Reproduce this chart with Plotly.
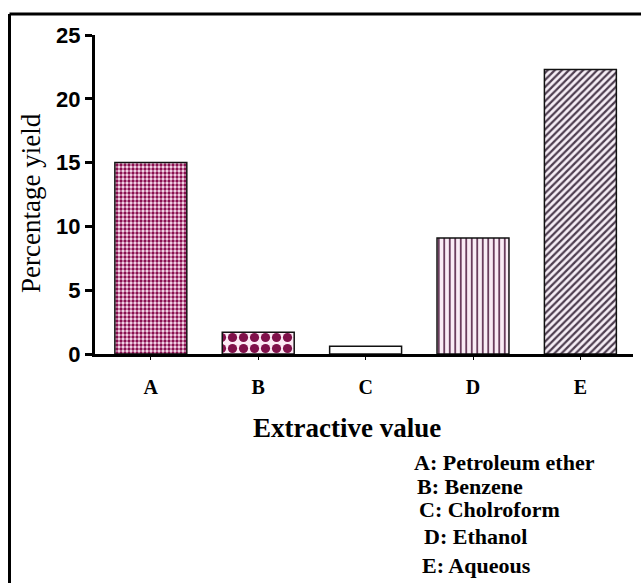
import plotly.graph_objects as go

# Extractive yield per solvent
categories = ["A", "B", "C", "D", "E"]
yield_pct = [15.0, 1.7, 0.6, 9.1, 22.3]
solvent_names = ["Petroleum ether", "Benzene", "Cholroform", "Ethanol", "Aqueous"]
y_ticks = [0, 5, 10, 15, 20, 25]

W, H = 641, 583
# plot area in pixels
L, R, T, B = 95, 633, 35, 354


def px_x(px):
    return (px - L) / (R - L)


def px_y(py):
    return (B - py) / (B - T)


serif = "Liberation Serif, Times New Roman, serif"
sans = "Liberation Sans, Arial, sans-serif"

# fill style for each bar: (shape, size, solidity, fg, bg)
bar_styles = {
    "A": (".", 4, 0.55, "#8a1050", "#fce4f3"),
    "B": (".", 11, 0.55, "#80104a", "#fdeaf5"),
    "C": ("", 8, 0.3, "#ffffff", "#ffffff"),
    "D": ("|", 5.5, 0.3, "#5a2a4c", "#f9ecf5"),
    "E": ("/", 5, 0.45, "#4e3e50", "#f6eef6"),
}

fig = go.Figure()
for cat, val in zip(categories, yield_pct):
    shape, size, solidity, fg, bg = bar_styles[cat]
    fig.add_trace(
        go.Bar(
            x=[cat],
            y=[val],
            width=0.67,
            marker=dict(
                color=bg,
                line=dict(color="#111111", width=1.5),
                pattern=dict(
                    shape=shape,
                    size=size,
                    solidity=solidity,
                    fgcolor=fg,
                    bgcolor=bg,
                    fgopacity=1,
                ),
            ),
            showlegend=False,
        )
    )

fig.update_layout(
    width=W,
    height=H,
    margin=dict(l=L, r=W - R, t=T, b=H - B),
    paper_bgcolor="white",
    plot_bgcolor="white",
    barmode="overlay",
)

fig.update_xaxes(
    range=[-0.52, 4.49],
    categoryorder="array",
    categoryarray=categories,
    showline=True,
    linecolor="black",
    linewidth=3,
    ticks="outside",
    ticklen=3,
    tickwidth=1,
    tickcolor="black",
    ticklabelstandoff=10,
    tickfont=dict(family=serif, size=20, color="black", weight="bold"),
    showgrid=False,
    zeroline=False,
)

fig.update_yaxes(
    range=[0, 25],
    tickvals=y_ticks,
    showline=True,
    linecolor="black",
    linewidth=3,
    ticks="outside",
    ticklen=7,
    tickwidth=3,
    tickcolor="black",
    tickfont=dict(family=sans, size=22, color="black", weight="bold"),
    showgrid=False,
    zeroline=False,
)

annotations = [
    dict(
        text="Percentage yield",
        x=px_x(31), y=px_y(203), xref="paper", yref="paper",
        textangle=-90, showarrow=False,
        font=dict(family=serif, size=27, color="black"),
        xanchor="center", yanchor="middle",
    ),
    dict(
        text="Extractive value",
        x=px_x(347), y=px_y(428), xref="paper", yref="paper",
        showarrow=False,
        font=dict(family=serif, size=27, color="black", weight="bold"),
        xanchor="center", yanchor="middle",
    ),
]

legend_x = [412, 415, 417, 422, 420]
legend_y = [463, 486, 509, 536, 565]
for cat, name, lx, ly in zip(categories, solvent_names, legend_x, legend_y):
    annotations.append(
        dict(
            text=f"{cat}: {name}",
            x=px_x(lx), y=px_y(ly), xref="paper", yref="paper",
            showarrow=False,
            font=dict(family=serif, size=22, color="black", weight="bold"),
            xanchor="left", yanchor="middle",
        )
    )

fig.update_layout(annotations=annotations)

# outer frame: top and left borders
fig.add_shape(type="line", xref="paper", yref="paper",
              x0=px_x(9.5), x1=px_x(641), y0=px_y(14), y1=px_y(14),
              line=dict(color="black", width=3))
fig.add_shape(type="line", xref="paper", yref="paper",
              x0=px_x(9.5), x1=px_x(9.5), y0=px_y(14), y1=px_y(583),
              line=dict(color="black", width=3))

fig.write_html("out.html")
